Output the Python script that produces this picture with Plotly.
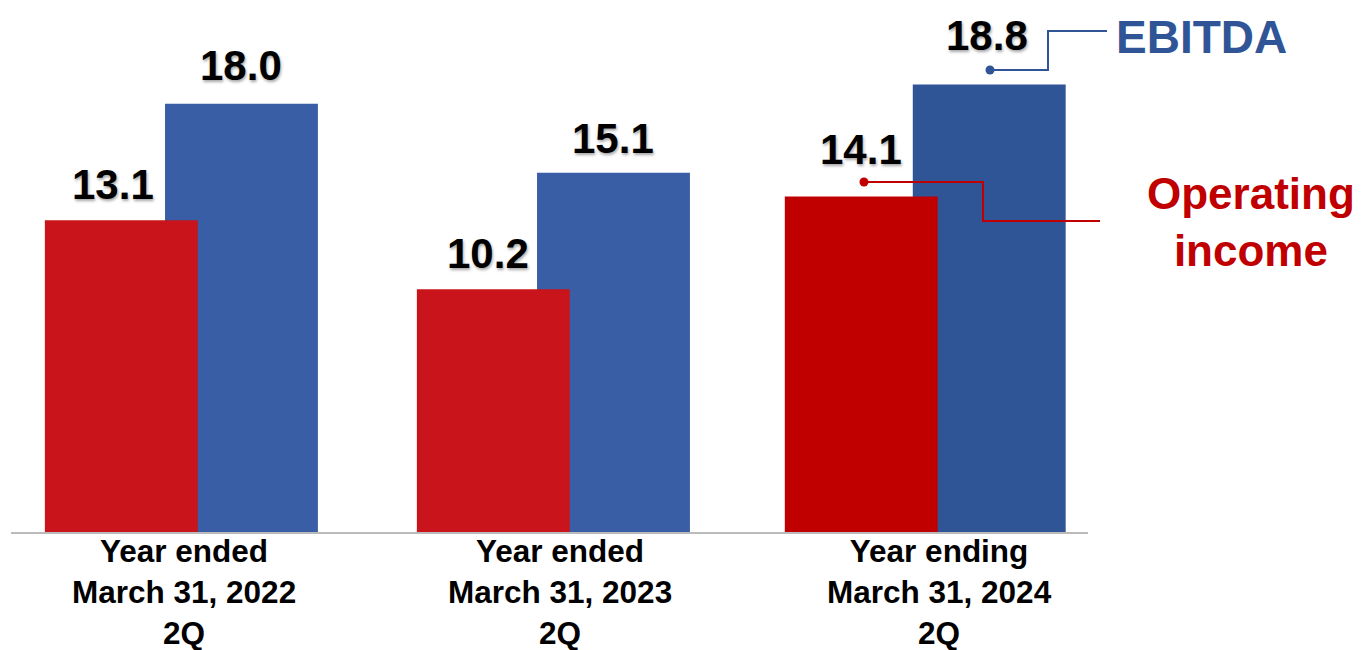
import plotly.graph_objects as go

# ---- data ----
categories = ["Year ended<br>March 31, 2022<br>2Q",
              "Year ended<br>March 31, 2023<br>2Q",
              "Year ending<br>March 31, 2024<br>2Q"]
operating_income = [13.1, 10.2, 14.1]
ebitda = [18.0, 15.1, 18.8]
value_labels_oi = ["13.1", "10.2", "14.1"]
value_labels_eb = ["18.0", "15.1", "18.8"]

# ---- styling ----
FONT = "Liberation Sans, Arial, sans-serif"
RED = ["#C8141A", "#C8141A", "#C00000"]
BLUE = ["#3A5EA6", "#3A5EA6", "#2F5597"]
RED_TXT = "#C00000"
BLUE_TXT = "#2F5597"
BAR_W = 0.411
OFF_RED = [-0.367, -0.367, -0.378]
OFF_BLUE = [-0.044, -0.044, -0.034]
LBL_DX_RED = [-8, -5, 0]
LBL_DX_BLUE = [0, 0, -2]
LBL_DY_RED = [10, 10, 21]
LBL_DY_BLUE = [13, 9, 24]
CAT_DX = [2.5, 6.5, 14.5]

PAGE_OFF = 8  # page body margin
W, H = 1357, 642
ML, MR, MT, MB = 3, 277, 0, 118
PW, PH = W - ML - MR, H - MT - MB

fig = go.Figure()
fig.add_trace(go.Bar(x=list(range(3)), y=ebitda, width=BAR_W, offset=OFF_BLUE,
                     marker=dict(color=BLUE, line=dict(width=0)), name="EBITDA"))
fig.add_trace(go.Bar(x=list(range(3)), y=operating_income, width=BAR_W, offset=OFF_RED,
                     marker=dict(color=RED, line=dict(width=0)), name="Operating income"))

annotations = []
shadow = "1px 2px 3px rgba(0,0,0,0.35)"
for i in range(3):
    annotations.append(dict(x=i + OFF_RED[i] + BAR_W / 2, y=operating_income[i], xref="x", yref="y",
                            text=value_labels_oi[i], showarrow=False, yanchor="bottom",
                            xshift=LBL_DX_RED[i], yshift=LBL_DY_RED[i],
                            font=dict(family=FONT, size=42, color="black", weight="bold", shadow=shadow)))
    annotations.append(dict(x=i + OFF_BLUE[i] + BAR_W / 2, y=ebitda[i], xref="x", yref="y",
                            text=value_labels_eb[i], showarrow=False, yanchor="bottom",
                            xshift=LBL_DX_BLUE[i], yshift=LBL_DY_BLUE[i],
                            font=dict(family=FONT, size=42, color="black", weight="bold", shadow=shadow)))
    annotations.append(dict(x=i, y=0, xref="x", yref="y", text=categories[i], showarrow=False,
                            yanchor="top", xanchor="center", xshift=CAT_DX[i], yshift=1,
                            font=dict(family=FONT, size=31.5, color="black", weight="bold")))


def px(x, y):
    x -= PAGE_OFF
    y -= PAGE_OFF
    return (x - ML) / PW, (H - MB - y) / PH


# legend labels
ex, ey = px(1201, 37)
annotations.append(dict(x=ex, y=ey, xref="paper", yref="paper", text="EBITDA", showarrow=False,
                        xanchor="center", yanchor="middle",
                        font=dict(family=FONT, size=46, color=BLUE_TXT, weight="bold")))
ox, oy = px(1251, 222)
annotations.append(dict(x=ox, y=oy, xref="paper", yref="paper", text="Operating<br>income",
                        showarrow=False, xanchor="center", yanchor="middle",
                        font=dict(family=FONT, size=44, color=RED_TXT, weight="bold")))

shapes = []


def polyline(pts, color):
    p = [px(*q) for q in pts]
    path = "M " + " L ".join(f"{a:.5f},{b:.5f}" for a, b in p)
    shapes.append(dict(type="path", path=path, xref="paper", yref="paper",
                       line=dict(color=color, width=2)))
    cx, cy = p[0]
    rx, ry = 4.5 / PW, 4.5 / PH
    shapes.append(dict(type="circle", xref="paper", yref="paper", x0=cx - rx, x1=cx + rx,
                       y0=cy - ry, y1=cy + ry, fillcolor=color, line=dict(width=0)))


polyline([(990, 70), (1048, 70), (1048, 31), (1107, 31)], BLUE_TXT)
polyline([(864, 182), (983, 182), (983, 221), (1100, 221)], RED_TXT)

fig.update_layout(
    width=W, height=H, margin=dict(l=ML, r=MR, t=MT, b=MB),
    paper_bgcolor="white", plot_bgcolor="white", showlegend=False, barmode="overlay",
    annotations=annotations, shapes=shapes,
    xaxis=dict(range=[-0.458, 2.437], showline=True, linecolor="#BBBBBB", linewidth=2,
               showticklabels=False, showgrid=False, zeroline=False, ticks="", fixedrange=True),
    yaxis=dict(range=[0, 22.02], visible=False, fixedrange=True),
)
fig.write_html("out.html")
